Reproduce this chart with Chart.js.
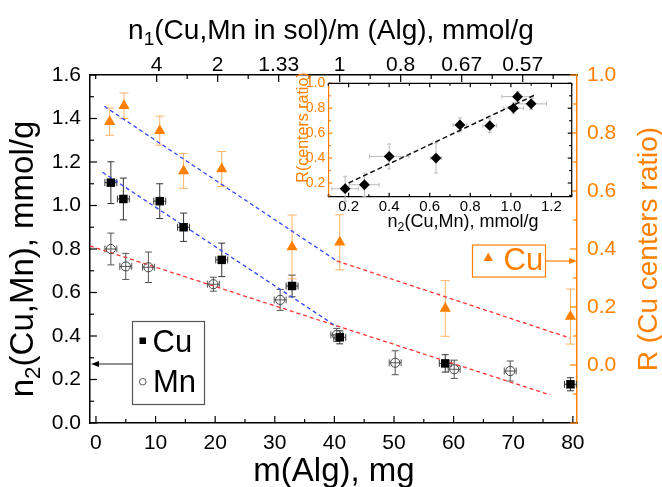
<!DOCTYPE html>
<html lang="en">
<head>
<meta charset="UTF-8">
<title>n2(Cu,Mn) vs m(Alg)</title>
<script src="https://cdn.jsdelivr.net/npm/chart.js"></script>
<style>
  body { margin: 0; background: #fff; }
  #wrap { position: relative; width: 662px; height: 487px; }
  #main { position: absolute; left: 0; top: 0; }
  #inset { position: absolute; left: 280px; top: 68px; }
</style>
</head>
<body>
<div id="wrap">
  <canvas id="main" width="662" height="487"></canvas>
  <canvas id="inset" width="300" height="170"></canvas>
</div>
<script>
// --- data ---
const massCu = [2.5, 4.6, 10.7, 14.7, 21.1, 32.9, 40.9, 58.6, 79.6];
const n2Cu = [1.105, 1.03, 1.02, 0.90, 0.75, 0.63, 0.394, 0.274, 0.178];
const n2CuErr = [0.096, 0.096, 0.08, 0.065, 0.077, 0.05, 0.03, 0.04, 0.03];
const massCuErr = [1, 1, 1, 1, 1, 1, 1, 1, 1];

const massMn = [2.5, 5.0, 8.8, 19.7, 30.9, 40.4, 50.2, 60.1, 69.5];
const n2Mn = [0.80, 0.72, 0.716, 0.638, 0.566, 0.405, 0.277, 0.247, 0.239];
const n2MnErr = [0.073, 0.06, 0.07, 0.032, 0.048, 0.03, 0.055, 0.042, 0.046];
const massMnErr = [1, 1, 1, 1, 1, 1, 1, 1, 1];

const massR = [2.3, 4.7, 10.7, 14.7, 21.1, 32.9, 40.9, 58.6, 79.6];
const ratioR = [0.839, 0.894, 0.808, 0.669, 0.676, 0.407, 0.423, 0.195, 0.167];
const ratioRErr = [0.047, 0.044, 0.05, 0.06, 0.06, 0.11, 0.095, 0.096, 0.095];

// dashed fit lines (end points)
const fitCuX = [1.1, 40.4], fitCuY = [1.153, 0.443];
const fitMnX = [-1.0, 76.2], fitMnY = [0.814, 0.129];
const fitRBlueX = [1.4, 40.4], fitRBlueY = [0.892, 0.359];
const fitRRedX = [40.4, 79.5], fitRRedY = [0.359, 0.093];

// inset: R vs n2(Cu)
const insetN2 = [0.183, 0.278, 0.40, 0.631, 0.749, 0.896, 1.013, 1.033, 1.10];
const insetR = [0.154, 0.186, 0.413, 0.40, 0.666, 0.66, 0.80, 0.893, 0.835];
const insetN2Err = [0.065, 0.073, 0.097, 0.028, 0.034, 0.034, 0.05, 0.077, 0.076];
const insetRErr = [0.1, 0.093, 0.1, 0.12, 0.057, 0.056, 0.044, 0.04, 0.047];
const insetFitX = [0.2, 1.123], insetFitY = [0.2, 0.91];

// ticks
const bottomTicks = [0, 10, 20, 30, 40, 50, 60, 70, 80];
const topTickPos = [10, 20, 30, 40, 50, 60, 70];
const topLabels = ['4', '2', '1.33', '1', '0.8', '0.67', '0.57'];
const leftTicks = [0, 0.2, 0.4, 0.6, 0.8, 1.0, 1.2, 1.4, 1.6];
const rightTicks = [0, 0.2, 0.4, 0.6, 0.8, 1.0];
const insetXTicks = [0.2, 0.4, 0.6, 0.8, 1.0, 1.2];
const insetYTicks = [0.2, 0.4, 0.6, 0.8, 1.0];

const ORANGE = '#ff8000';
const FONT = '"Liberation Sans", Arial, sans-serif';

function pts(xs, ys) {
    return xs.map((x, i) => ({ x: x, y: ys[i] }));
}

function drawRich(ctx, parts, size, x, y, rot, color) {
    ctx.save();
    ctx.translate(x, y);
    if (rot) ctx.rotate(rot);
    ctx.fillStyle = color;
    ctx.textBaseline = 'alphabetic';
    ctx.textAlign = 'left';
    let w = 0;
    parts.forEach(p => {
        ctx.font = (p.sub ? size * 0.68 : size) + 'px ' + FONT;
        w += ctx.measureText(p.t).width;
    });
    let cx = -w / 2;
    parts.forEach(p => {
        ctx.font = (p.sub ? size * 0.68 : size) + 'px ' + FONT;
        ctx.fillText(p.t, cx, p.sub ? size * 0.22 : 0);
        cx += ctx.measureText(p.t).width;
    });
    ctx.restore();
}

function seg(ctx, x1, y1, x2, y2) {
    ctx.beginPath();
    ctx.moveTo(x1, y1);
    ctx.lineTo(x2, y2);
    ctx.stroke();
}

// error bars drawn under the markers
const errorBars = {
    id: 'errorBars',
    beforeDatasetsDraw(chart) {
        const ctx = chart.ctx;
        chart.data.datasets.forEach((ds, i) => {
            if (!ds.errY && !ds.errX) return;
            const meta = chart.getDatasetMeta(i);
            const xs = chart.scales[meta.xAxisID];
            const ys = chart.scales[meta.yAxisID];
            const cap = ds.cap || 3;
            ctx.save();
            ctx.strokeStyle = ds.errColor;
            ctx.lineWidth = 1;
            ds.data.forEach((p, j) => {
                const px = xs.getPixelForValue(p.x);
                const py = ys.getPixelForValue(p.y);
                if (ds.errY) {
                    const t = ys.getPixelForValue(p.y + ds.errY[j]);
                    const b = ys.getPixelForValue(p.y - ds.errY[j]);
                    seg(ctx, px, t, px, b);
                    seg(ctx, px - cap, t, px + cap, t);
                    seg(ctx, px - cap, b, px + cap, b);
                }
                if (ds.errX) {
                    const l = xs.getPixelForValue(p.x - ds.errX[j]);
                    const r = xs.getPixelForValue(p.x + ds.errX[j]);
                    seg(ctx, l, py, r, py);
                    seg(ctx, l, py - cap, l, py + cap);
                    seg(ctx, r, py - cap, r, py + cap);
                }
            });
            ctx.restore();
        });
    }
};

// inward ticks like the original plot
function innerTicks(chart, id, side, major, minor, color, lenMaj, lenMin) {
    const ctx = chart.ctx;
    const s = chart.scales[id];
    const a = chart.chartArea;
    ctx.save();
    ctx.strokeStyle = color;
    ctx.lineWidth = 1.2;
    const draw = (v, len) => {
        if (side === 'bottom' || side === 'top') {
            const x = s.getPixelForValue(v);
            const y0 = side === 'bottom' ? a.bottom : a.top;
            seg(ctx, x, y0, x, side === 'bottom' ? y0 - len : y0 + len);
        } else {
            const y = s.getPixelForValue(v);
            const x0 = side === 'left' ? a.left : a.right;
            seg(ctx, x0, y, side === 'left' ? x0 + len : x0 - len, y);
        }
    };
    major.forEach(v => draw(v, lenMaj));
    minor.forEach(v => draw(v, lenMin));
    ctx.restore();
}

function range(a, b, step) {
    const out = [];
    for (let v = a; v <= b + 1e-9; v += step) out.push(Math.round(v * 1000) / 1000);
    return out;
}

const mainDecor = {
    id: 'mainDecor',
    afterDraw(chart) {
        const ctx = chart.ctx;
        innerTicks(chart, 'x', 'bottom', bottomTicks, range(5, 75, 10), '#000', 7, 4);
        innerTicks(chart, 'x2', 'top', topTickPos, [0].concat(range(15, 75, 10)), '#000', 7, 4);
        innerTicks(chart, 'y', 'left', leftTicks, range(0.1, 1.5, 0.2), '#000', 7, 4);
        innerTicks(chart, 'y2', 'right', [-0.2].concat(rightTicks), range(-0.1, 0.9, 0.2), ORANGE, 7, 4);

        // axis titles
        drawRich(ctx, [{ t: 'n' }, { t: '1', sub: true }, { t: '(Cu,Mn in sol)/m (Alg), mmol/g' }], 28, 331, 39, 0, '#000');
        drawRich(ctx, [{ t: 'm(Alg), mg' }], 33, 334, 481, 0, '#000');
        drawRich(ctx, [{ t: 'n' }, { t: '2', sub: true }, { t: '(Cu,Mn), mmol/g' }], 33, 33, 259, -Math.PI / 2, '#000');
        drawRich(ctx, [{ t: 'R (Cu centers ratio)' }], 28, 657, 249, -Math.PI / 2, ORANGE);

        const ds = chart.data.datasets;
        // left legend (Cu, Mn)
        ctx.save();
        ctx.strokeStyle = '#555';
        ctx.lineWidth = 1.2;
        ctx.strokeRect(132.5, 321.5, 72, 83);
        ctx.fillStyle = '#000';
        ctx.fillRect(139.5, 337.5, 6.5, 6.5);
        ctx.beginPath();
        ctx.arc(142.7, 381.7, 3.3, 0, Math.PI * 2);
        ctx.strokeStyle = '#555';
        ctx.lineWidth = 1;
        ctx.stroke();
        ctx.font = '31px ' + FONT;
        ctx.fillStyle = '#000';
        ctx.textBaseline = 'alphabetic';
        ctx.fillText(ds[0].label, 152.5, 352);
        ctx.fillText(ds[1].label, 153, 392);
        ctx.strokeStyle = '#222';
        seg(ctx, 132.5, 364, 95, 364);
        ctx.beginPath();
        ctx.moveTo(91, 364); ctx.lineTo(99, 361); ctx.lineTo(99, 367); ctx.closePath();
        ctx.fill();

        // right legend (R of Cu)
        ctx.strokeStyle = ORANGE;
        ctx.lineWidth = 1.2;
        ctx.strokeRect(472.5, 245, 73, 32);
        ctx.fillStyle = ORANGE;
        ctx.beginPath();
        ctx.moveTo(488.3, 252.5); ctx.lineTo(493, 261); ctx.lineTo(483.6, 261); ctx.closePath();
        ctx.fill();
        ctx.fillText(ds[2].label, 503.5, 270);
        seg(ctx, 545.5, 261, 572, 261);
        ctx.beginPath();
        ctx.moveTo(577, 261); ctx.lineTo(569, 258); ctx.lineTo(569, 264); ctx.closePath();
        ctx.fill();
        ctx.restore();
    }
};

const tickFont = { family: FONT, size: 21 };

new Chart(document.getElementById('main').getContext('2d'), {
    type: 'scatter',
    data: {
        datasets: [
            {
                label: 'Cu', xAxisID: 'x', yAxisID: 'y',
                data: pts(massCu, n2Cu), errY: n2CuErr, errX: massCuErr,
                errColor: '#333', cap: 3.5,
                pointStyle: 'rect', pointRadius: 6,
                backgroundColor: '#000', borderColor: '#000', borderWidth: 0
            },
            {
                label: 'Mn', xAxisID: 'x', yAxisID: 'y',
                data: pts(massMn, n2Mn), errY: n2MnErr, errX: massMnErr,
                errColor: '#555', cap: 3.5,
                pointStyle: 'circle', pointRadius: 4.6,
                backgroundColor: 'rgba(0,0,0,0)', borderColor: '#444', borderWidth: 1
            },
            {
                label: 'Cu', xAxisID: 'x', yAxisID: 'y2',
                data: pts(massR, ratioR), errY: ratioRErr,
                errColor: '#ffb366', cap: 4.5,
                pointStyle: 'triangle', pointRadius: 6.5,
                backgroundColor: ORANGE, borderColor: ORANGE, borderWidth: 0
            },
            {
                label: 'fit Cu', xAxisID: 'x', yAxisID: 'y', data: pts(fitCuX, fitCuY),
                showLine: true, pointRadius: 0, borderColor: '#3344ff', borderWidth: 1.3, borderDash: [4, 3]
            },
            {
                label: 'fit Mn', xAxisID: 'x', yAxisID: 'y', data: pts(fitMnX, fitMnY),
                showLine: true, pointRadius: 0, borderColor: '#ff3333', borderWidth: 1.3, borderDash: [4, 3]
            },
            {
                label: 'fit R 1', xAxisID: 'x', yAxisID: 'y2', data: pts(fitRBlueX, fitRBlueY),
                showLine: true, pointRadius: 0, borderColor: '#3344ff', borderWidth: 1.3, borderDash: [4, 3]
            },
            {
                label: 'fit R 2', xAxisID: 'x', yAxisID: 'y2', data: pts(fitRRedX, fitRRedY),
                showLine: true, pointRadius: 0, borderColor: '#ff3333', borderWidth: 1.3, borderDash: [4, 3]
            }
        ]
    },
    options: {
        responsive: false,
        animation: false,
        devicePixelRatio: 1,
        layout: { padding: 0 },
        plugins: { legend: { display: false }, tooltip: { enabled: false } },
        scales: {
            x: {
                type: 'linear', position: 'bottom', min: -1, max: 80.7,
                afterBuildTicks: s => { s.ticks = bottomTicks.map(v => ({ value: v })); },
                afterFit: s => { s.height = 64; },
                ticks: { font: tickFont, color: '#000', padding: 8, maxRotation: 0, autoSkip: false },
                grid: { drawOnChartArea: false, drawTicks: false },
                border: { color: '#000', width: 1.5 }
            },
            x2: {
                type: 'linear', position: 'top', min: -0.93, max: 78.9,
                afterBuildTicks: s => { s.ticks = topTickPos.map(v => ({ value: v })); },
                afterFit: s => { s.height = 75; },
                ticks: { font: tickFont, color: '#000', padding: -3, maxRotation: 0, autoSkip: false,
                    callback: (v, i) => topLabels[i] },
                grid: { drawOnChartArea: false, drawTicks: false },
                border: { color: '#000', width: 1.5 }
            },
            y: {
                type: 'linear', position: 'left', min: 0, max: 1.6,
                afterBuildTicks: s => { s.ticks = leftTicks.map(v => ({ value: v })); },
                afterFit: s => { s.width = 90; },
                ticks: { font: tickFont, color: '#000', padding: 9, callback: v => v.toFixed(1) },
                grid: { drawOnChartArea: false, drawTicks: false },
                border: { color: '#000', width: 1.5 }
            },
            y2: {
                type: 'linear', position: 'right', min: -0.2, max: 1.0,
                afterBuildTicks: s => { s.ticks = rightTicks.map(v => ({ value: v })); },
                afterFit: s => { s.width = 85; },
                ticks: { font: tickFont, color: ORANGE, padding: 10, callback: v => v.toFixed(1) },
                grid: { drawOnChartArea: false, drawTicks: false },
                border: { color: ORANGE, width: 1.5 }
            }
        }
    },
    plugins: [errorBars, mainDecor]
});

// --- inset ---
const insetDecor = {
    id: 'insetDecor',
    beforeDraw(chart) {
        const a = chart.chartArea;
        chart.ctx.save();
        chart.ctx.fillStyle = '#fff';
        chart.ctx.fillRect(a.left, a.top, a.right - a.left, a.bottom - a.top);
        chart.ctx.restore();
    },
    afterDraw(chart) {
        const ctx = chart.ctx;
        const a = chart.chartArea;
        const minorX = range(0.1, 1.3, 0.2), minorY = range(0.1, 0.9, 0.2);
        innerTicks(chart, 'x', 'bottom', insetXTicks, minorX, '#000', 4, 2.5);
        innerTicks(chart, 'x', 'top', insetXTicks, minorX, '#000', 4, 2.5);
        innerTicks(chart, 'y', 'left', insetYTicks, minorY, ORANGE, 4, 2.5);
        innerTicks(chart, 'y', 'right', insetYTicks, minorY, '#000', 4, 2.5);
        ctx.save();
        ctx.strokeStyle = '#000';
        ctx.lineWidth = 1.2;
        seg(ctx, a.left, a.top, a.right, a.top);
        seg(ctx, a.right, a.top, a.right, a.bottom);
        ctx.restore();
        drawRich(ctx, [{ t: 'n' }, { t: '2', sub: true }, { t: '(Cu,Mn), mmol/g' }], 18, 183, 159, 0, '#000');
        drawRich(ctx, [{ t: 'R(centers ratio)' }], 16, 28, 59.5, -Math.PI / 2, ORANGE);
    }
};

new Chart(document.getElementById('inset').getContext('2d'), {
    type: 'scatter',
    data: {
        datasets: [
            {
                label: 'R vs n2', data: pts(insetN2, insetR),
                errX: insetN2Err, errY: insetRErr, errColor: '#bbbbbb', cap: 2,
                pointStyle: 'rectRot', pointRadius: 5.4,
                backgroundColor: '#000', borderColor: '#000', borderWidth: 0
            },
            {
                label: 'fit', data: pts(insetFitX, insetFitY),
                showLine: true, pointRadius: 0, borderColor: '#111', borderWidth: 1.5, borderDash: [5, 3]
            }
        ]
    },
    options: {
        responsive: false,
        animation: false,
        devicePixelRatio: 1,
        layout: { padding: { top: 15.3, right: 8.3 } },
        plugins: { legend: { display: false }, tooltip: { enabled: false } },
        scales: {
            x: {
                type: 'linear', position: 'bottom', min: 0.1, max: 1.3,
                afterBuildTicks: s => { s.ticks = insetXTicks.map(v => ({ value: v })); },
                afterFit: s => { s.height = 41.3; },
                ticks: { font: { family: FONT, size: 15 }, color: '#000', padding: 1, maxRotation: 0,
                    autoSkip: false, callback: v => v.toFixed(1) },
                grid: { drawOnChartArea: false, drawTicks: false },
                border: { color: '#000', width: 1.2 }
            },
            y: {
                type: 'linear', position: 'left', min: 0.09, max: 1.0,
                afterBuildTicks: s => { s.ticks = insetYTicks.map(v => ({ value: v })); },
                afterFit: s => { s.width = 48.3; },
                ticks: { font: { family: FONT, size: 14 }, color: ORANGE, padding: 3, callback: v => v.toFixed(1) },
                grid: { drawOnChartArea: false, drawTicks: false },
                border: { color: ORANGE, width: 1.2 }
            }
        }
    },
    plugins: [insetDecor, errorBars]
});
</script>
</body>
</html>
